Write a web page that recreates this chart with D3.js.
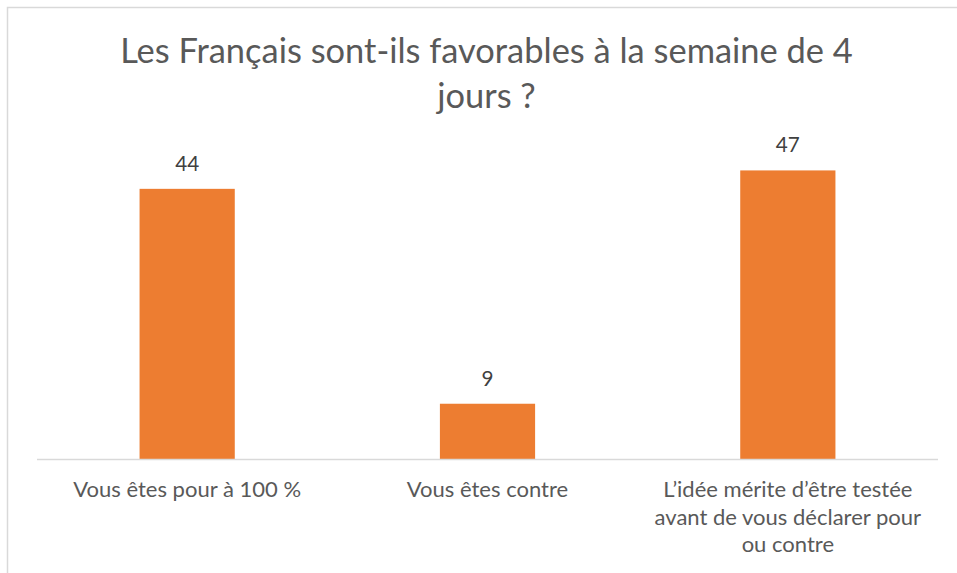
<!DOCTYPE html>
<html>
<head>
<meta charset="utf-8">
<script src="https://cdn.jsdelivr.net/npm/d3@7"></script>
<style>
  html, body { margin: 0; padding: 0; background: #fff; }
  svg { display: block; }
  text { font-family: Lato, "Open Sans", sans-serif; }
</style>
</head>
<body>
<svg id="chart" width="957" height="573"></svg>
<script>
const titleLines = ["Les Français sont-ils favorables à la semaine de 4", "jours ?"];
const categories = ["Vous êtes pour à 100 %", "Vous êtes contre", "L’idée mérite d’être testée avant de vous déclarer pour ou contre"];
const categoryLines = [["Vous êtes pour à 100 %"], ["Vous êtes contre"], ["L’idée mérite d’être testée", "avant de vous déclarer pour", "ou contre"]];
const values = [44, 9, 47];
const yDomain = [0, 50];

const svg = d3.select("#chart");
const W = 957, H = 573;
const plot = { left: 37, right: 938, top: 152, bottom: 459 };

// chart area border
svg.append("rect")
  .attr("x", 7.5).attr("y", 7.5)
  .attr("width", W + 20).attr("height", H + 20)
  .attr("fill", "#fff")
  .attr("stroke", "#D9D9D9").attr("stroke-width", 1.5);

const x = d3.scaleBand().domain(categories).range([plot.left, plot.right]).paddingInner(0.683).paddingOuter(0.3415);
const y = d3.scaleLinear().domain(yDomain).range([plot.bottom, plot.top]);

function fitSize(str, targetWidth, weight) {
  const t = svg.append("text").attr("font-size", 100).attr("font-weight", weight || 400).text(str);
  const w = t.node().getComputedTextLength();
  t.remove();
  return 100 * targetWidth / w;
}

const titleSize = fitSize(titleLines[0], 733);
const labelSize = fitSize(categoryLines[0][0], 228);
const valueSize = fitSize("44", 24);

// title
svg.append("g").selectAll("text").data(titleLines).join("text")
  .attr("x", 486.5)
  .attr("y", (d, i) => 63 + i * 45)
  .attr("text-anchor", "middle")
  .attr("font-size", titleSize)
  .attr("fill", "#595959")
  .text(d => d);

// bars
const data = categories.map((c, i) => ({ c, v: values[i], lines: categoryLines[i] }));
svg.append("g").selectAll("rect").data(data).join("rect")
  .attr("x", d => x(d.c))
  .attr("y", d => y(d.v))
  .attr("width", x.bandwidth())
  .attr("height", d => y(0) - y(d.v))
  .attr("fill", "#ED7D31");

// x axis line
svg.append("line")
  .attr("x1", plot.left).attr("x2", plot.right)
  .attr("y1", y(0) + 0.5).attr("y2", y(0) + 0.5)
  .attr("stroke", "#D9D9D9").attr("stroke-width", 1.5);

// value labels
svg.append("g").selectAll("text").data(data).join("text")
  .attr("x", d => x(d.c) + x.bandwidth() / 2)
  .attr("y", d => y(d.v) - 18)
  .attr("text-anchor", "middle")
  .attr("font-size", valueSize)
  .attr("fill", "#404040")
  .text(d => d.v);

// category labels
const cat = svg.append("g").selectAll("text").data(data).join("text")
  .attr("text-anchor", "middle")
  .attr("font-size", labelSize)
  .attr("fill", "#595959");
cat.selectAll("tspan").data(d => d.lines.map(l => ({ l, cx: x(d.c) + x.bandwidth() / 2 }))).join("tspan")
  .attr("x", d => d.cx)
  .attr("y", (d, i) => 497 + i * 27.5)
  .text(d => d.l);
</script>
</body>
</html>
